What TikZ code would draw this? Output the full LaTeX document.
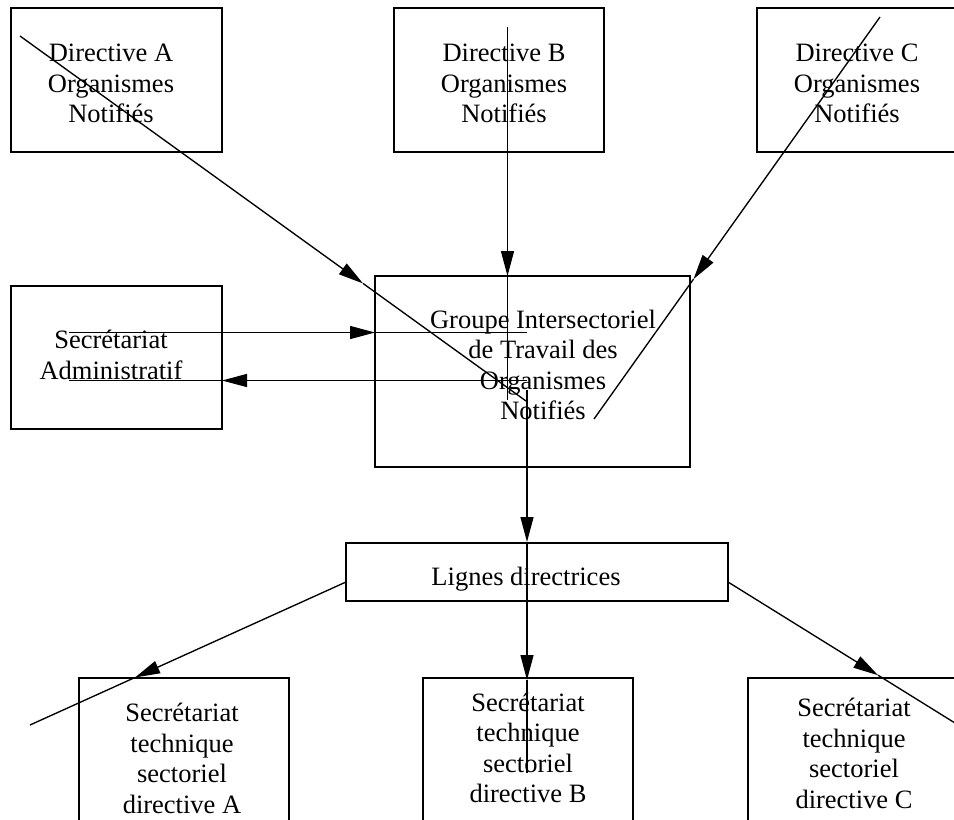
\documentclass[tikz,border=0pt]{standalone}
\usepackage{fontspec}
\setmainfont{Liberation Serif}
\usetikzlibrary{arrows.meta,calc}
\begin{document}
\begin{tikzpicture}[x=1pt,y=-1pt,
  boxst/.style={draw, line width=1.4pt, inner sep=0pt, outer sep=0pt, anchor=north west},
  txt/.style={align=center, inner sep=0pt, font=\fontsize{26.5}{30.5}\selectfont},
  ln/.style={line width=1.35pt},
  arr/.style={ln, -{Triangle[length=25pt,width=13pt]}}]
\useasboundingbox (0,0) rectangle (954,820);
\clip (0,0) rectangle (954,820);
\fill[white] (0,0) rectangle (954,820);

% boxes
\node[boxst, minimum width=211pt, minimum height=144pt] (dirA) at (11,8) {};
\node[boxst, minimum width=210pt, minimum height=144pt] (dirB) at (394,8) {};
\node[boxst, minimum width=260pt, minimum height=144pt] (dirC) at (757,8) {};
\node[boxst, minimum width=211pt, minimum height=143pt] (sadm) at (11,286) {};
\node[boxst, minimum width=315pt, minimum height=191pt] (git) at (375,276) {};
\node[boxst, minimum width=382pt, minimum height=58pt] (lig) at (346,543) {};
\node[boxst, minimum width=210pt, minimum height=200pt] (stA) at (79,678) {};
\node[boxst, minimum width=210pt, minimum height=200pt] (stB) at (423,678) {};
\node[boxst, minimum width=260pt, minimum height=200pt] (stC) at (748,678) {};

% texts
\node[txt] (dirAt) at (111,83.5) {Directive A\\Organismes\\Notifiés};
\node[txt] (dirBt) at (504,83.5) {Directive B\\Organismes\\Notifiés};
\node[txt] (dirCt) at (857,83.5) {Directive C\\Organismes\\Notifiés};
\node[txt] (sadmt) at (111,355) {Secrétariat\\Administratif};
\node[txt] (gitt) at (543,365) {Groupe Intersectoriel\\de Travail des\\Organismes\\Notifiés};
\node[txt] (ligt) at (526,579.5) {Lignes directrices};
\node[txt] (stAt) at (182,758.5) {Secrétariat\\technique\\sectoriel\\directive A};
\node[txt] (stBt) at (528,748) {Secrétariat\\technique\\sectoriel\\directive B};
\node[txt] (stCt) at (854,753.5) {Secrétariat\\technique\\sectoriel\\directive C};

% connector end points
\coordinate (aS) at (20,36);   \coordinate (aE) at (526,401);
\coordinate (aT) at ($(aS)!0.678!(aE)$);
\coordinate (bS) at (507.5,27); \coordinate (bT) at (507.5,276); \coordinate (bE) at (507.5,400);
\coordinate (cS) at (880,17);  \coordinate (cE) at (594,419);
\coordinate (cT) at ($(cS)!0.652!(cE)$);
\coordinate (s1S) at (69,332.5); \coordinate (s1T) at (375,332.5); \coordinate (s1E) at (527,332.5);
\coordinate (s2S) at (527,380.5); \coordinate (s2T) at (222,380.5); \coordinate (s2E) at (69,380.5);
\coordinate (gS) at (527,390); \coordinate (gT) at (527,542);
\coordinate (lbT) at (527,680); \coordinate (lbE) at (527,773);
\coordinate (laS) at (346,582); \coordinate (laE) at (30,725);
\coordinate (laT) at ($(laS)!0.6677!(laE)$);
\coordinate (lcS) at (728,582); \coordinate (lcE) at (955,723);
\coordinate (lcT) at ($(lcS)!0.661!(lcE)$);

% connectors
\draw[arr] (aS) -- (aT);  \draw[ln] (aT) -- (aE);
\draw[arr] (bS) -- (bT);  \draw[ln] (bT) -- (bE);
\draw[arr] (cS) -- (cT);  \draw[ln] (cT) -- (cE);
\draw[arr] (s1S) -- (s1T); \draw[ln] (s1T) -- (s1E);
\draw[arr] (s2S) -- (s2T); \draw[ln] (s2T) -- (s2E);
\draw[arr] (gS) -- (gT);
\draw[arr] (gT) -- (lbT); \draw[ln] (lbT) -- (lbE);
\draw[arr] (laS) -- (laT); \draw[ln] (laT) -- (laE);
\draw[arr] (lcS) -- (lcT); \draw[ln] (lcT) -- (lcE);
\end{tikzpicture}
\end{document}
